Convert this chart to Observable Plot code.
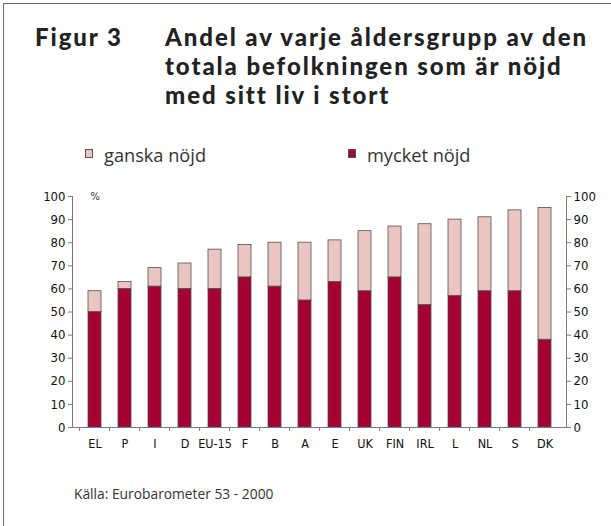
<!DOCTYPE html>
<html><head><meta charset="utf-8">
<script src="https://cdn.jsdelivr.net/npm/d3@7"></script>
<script src="https://cdn.jsdelivr.net/npm/@observablehq/plot@0.6"></script>
<style>
body{margin:0;background:#fff;}
#wrap{position:relative;width:611px;height:526px;overflow:hidden;font-family:"Open Sans",sans-serif;color:#222;}
#frame{position:absolute;left:3px;top:3px;width:700px;height:600px;border-top:1.5px solid #6e6e6e;border-left:1.5px solid #6e6e6e;}
.tl{position:absolute;font-family:Lato,"Open Sans",sans-serif;font-weight:900;font-size:24px;line-height:29px;white-space:nowrap;color:#222;}
.lg{position:absolute;top:143px;font-size:18.2px;line-height:24px;color:#333;white-space:nowrap;}
.sw{position:absolute;width:6px;height:7px;border:1px solid #555;}
#cap{position:absolute;left:74px;top:484px;font-size:13.8px;color:#333;white-space:nowrap;}
#chart{position:absolute;left:0;top:180px;}
</style></head>
<body>
<div id="wrap">
  <div id="frame"></div>
  <div class="tl" id="fig" style="left:35px;top:22px;">Figur 3</div>
  <div class="tl" id="t1" style="left:165px;top:22px;">Andel av varje åldersgrupp av den</div>
  <div class="tl" id="t2" style="left:165px;top:51px;">totala befolkningen som är nöjd</div>
  <div class="tl" id="t3" style="left:165px;top:80px;">med sitt liv i stort</div>
  <div id="legend"></div>
  <div id="chart"></div>
  <div id="cap">Källa: Eurobarometer 53 - 2000</div>
</div>
<script>
const countries = ["EL","P","I","D","EU-15","F","B","A","E","UK","FIN","IRL","L","NL","S","DK"];
const mycketNojd = [50,60,61,60,60,65,61,55,63,59,65,53,57,59,59,38];
const totalNojd  = [59,63,69,71,77,79,80,80,81,85,87,88,90,91,94,95];
const series = ["mycket nöjd","ganska nöjd"];
const colors = ["#a50034","#ebc6c1"];
const yTicks = [0,10,20,30,40,50,60,70,80,90,100];

const data = countries.flatMap((c,i)=>[
  {c, s:series[0], v:mycketNojd[i]},
  {c, s:series[1], v:totalNojd[i]-mycketNojd[i]}
]);

// title letter-spacing fitted so the first line is as wide as in the original
(function(){
  const t1=document.getElementById("t1");
  const w=t1.getBoundingClientRect().width;
  const n=t1.textContent.length;
  const ls=Math.max(0,(423-w)/n);
  document.querySelectorAll(".tl").forEach(el=>el.style.letterSpacing=ls+"px");
})();

// legend (ganska first, as in original)
const legend = document.getElementById("legend");
[[series[1],colors[1],85],[series[0],colors[0],348]].forEach(([name,col,x])=>{
  const sw=document.createElement("div");sw.className="sw";
  sw.style.left=x+"px";sw.style.top="149px";sw.style.background=col;
  legend.appendChild(sw);
  const t=document.createElement("div");t.className="lg";t.textContent=name;
  t.style.left=(x+19)+"px";
  legend.appendChild(t);
});

const W=611,H=280,ML=72,MR=45,MT=16,MB=33;
const step=(W-ML-MR)/countries.length;
const axisCol="#7a7a7a";
const font="'Liberation Sans Narrow','DejaVu Sans Condensed',sans-serif";

const plot = Plot.plot({
  width:W, height:H, marginTop:MT, marginBottom:MB, marginLeft:ML, marginRight:MR,
  style:{fontFamily:font, fontSize:"13px", color:"#111", background:"transparent", overflow:"visible"},
  x:{domain:countries, paddingInner:0.58, paddingOuter:0.29, label:null},
  y:{domain:[0,100], label:null},
  color:{domain:series, range:colors},
  marks:[
    Plot.barY(data,{x:"c", y:"v", fill:"s", stroke:"#505050", strokeWidth:0.8}),
    Plot.ruleY([0],{stroke:axisCol}),
    Plot.frame({anchor:"left", stroke:axisCol}),
    Plot.frame({anchor:"right", stroke:axisCol}),
    Plot.axisY(yTicks,{anchor:"left", tickSize:4, tickPadding:3, stroke:axisCol, fill:"#111", label:null}),
    Plot.axisY(yTicks,{anchor:"right", tickSize:4, tickPadding:3, stroke:axisCol, fill:"#111", label:null}),
    Plot.axisX({anchor:"bottom", tickSize:4, dx:-step/2, tickFormat:()=>"", stroke:axisCol, label:null}),
    Plot.axisX({anchor:"bottom", tickSize:0, tickPadding:12, fontSize:12.5, fill:"#111", label:null}),
    Plot.text(["%"],{frameAnchor:"top-left", dx:18, dy:-4, fontSize:11, fill:"#333"})
  ]
});
document.getElementById("chart").appendChild(plot);
</script>
</body></html>
